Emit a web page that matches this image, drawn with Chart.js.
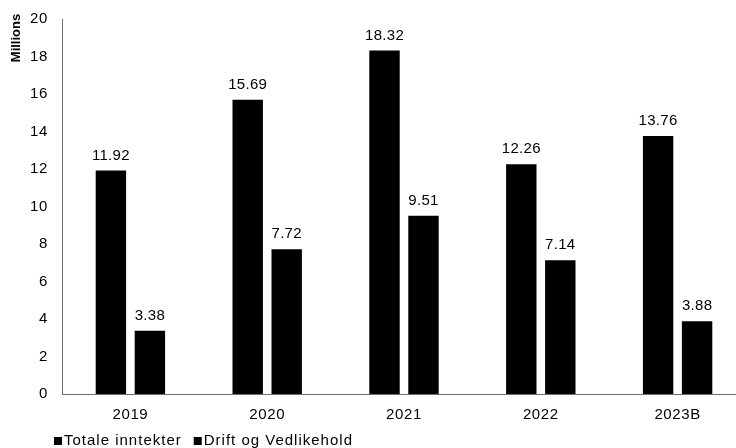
<!DOCTYPE html>
<html>
<head>
<meta charset="utf-8">
<script src="https://cdn.jsdelivr.net/npm/chart.js@4"></script>
<style>
  html, body { margin: 0; padding: 0; background: #fff; overflow: hidden; }
  #wrap { position: relative; width: 746px; height: 448px; }
</style>
</head>
<body>
<div id="wrap"><canvas id="c" width="746" height="448"></canvas></div>
<script>
const categories = ['2019', '2020', '2021', '2022', '2023B'];
const seriesNames = ['Totale inntekter', 'Drift og Vedlikehold'];
const totaleInntekter = [11.92, 15.69, 18.32, 12.26, 13.76];
const driftOgVedlikehold = [3.38, 7.72, 9.51, 7.14, 3.88];
const yTicks = [0, 2, 4, 6, 8, 10, 12, 14, 16, 18, 20];
const yTitle = 'Millions';

const FONT = '"Liberation Sans", Arial, sans-serif';
const SPACING = '0.6px';

const labelsPlugin = {
  id: 'customLabels',
  beforeUpdate(chart) { chart.ctx.letterSpacing = SPACING; },
  beforeDraw(chart) { chart.ctx.letterSpacing = SPACING; },
  afterDraw(chart) {
    const ctx = chart.ctx;
    ctx.save();
    ctx.letterSpacing = '0.3px';
    // data labels
    ctx.font = '15px ' + FONT;
    ctx.fillStyle = '#000';
    ctx.textAlign = 'center';
    ctx.textBaseline = 'alphabetic';
    chart.data.datasets.forEach((ds, i) => {
      const meta = chart.getDatasetMeta(i);
      meta.data.forEach((bar, j) => {
        ctx.fillText(ds.data[j].toFixed(2), bar.x, bar.y - 11);
      });
    });
    // y title
    ctx.save();
    ctx.letterSpacing = '0px';
    ctx.font = 'bold 13px ' + FONT;
    ctx.translate(16.5, 38);
    ctx.rotate(-Math.PI / 2);
    ctx.textAlign = 'center';
    ctx.textBaseline = 'middle';
    ctx.fillText(yTitle, 0, 0);
    ctx.restore();
    // legend
    ctx.letterSpacing = '1px';
    ctx.font = '15px ' + FONT;
    ctx.textAlign = 'left';
    ctx.textBaseline = 'alphabetic';
    let x = 54;
    const base = 445;
    chart.data.datasets.forEach((ds) => {
      ctx.fillStyle = ds.backgroundColor;
      ctx.fillRect(x, base - 8, 8, 8);
      ctx.fillStyle = '#000';
      ctx.fillText(ds.label, x + 10, base);
      x += 10 + ctx.measureText(ds.label).width + 12;
    });
    ctx.restore();
  }
};

function zeroPad(scale) {
  scale.paddingTop = 0;
  scale.paddingBottom = 0;
  scale.paddingLeft = 0;
  scale.paddingRight = 0;
}

new Chart(document.getElementById('c'), {
  type: 'bar',
  data: {
    labels: categories,
    datasets: [
      { label: seriesNames[0], data: totaleInntekter, backgroundColor: '#000000' },
      { label: seriesNames[1], data: driftOgVedlikehold, backgroundColor: '#000000' }
    ]
  },
  options: {
    responsive: false,
    animation: false,
    devicePixelRatio: 1,
    layout: { padding: { top: 19, left: 0, right: 0, bottom: 0 } },
    datasets: { bar: { categoryPercentage: 0.57, barPercentage: 0.78 } },
    plugins: { legend: { display: false }, tooltip: { enabled: false } },
    scales: {
      x: {
        grid: { display: false, drawTicks: false },
        border: { display: true, color: '#6e6e6e', width: 1 },
        ticks: { color: '#000', font: { family: FONT, size: 15 }, padding: 12, maxRotation: 0 },
        afterFit(scale) { scale.height = 54; zeroPad(scale); }
      },
      y: {
        min: 0, max: 20,
        grid: { display: false, drawTicks: false },
        border: { display: true, color: '#6e6e6e', width: 1 },
        afterBuildTicks(scale) { scale.ticks = yTicks.map(v => ({ value: v })); },
        ticks: { color: '#000', font: { family: FONT, size: 15 }, padding: 14 },
        afterFit(scale) { scale.width = 62; zeroPad(scale); }
      }
    }
  },
  plugins: [labelsPlugin]
});
</script>
</body>
</html>
